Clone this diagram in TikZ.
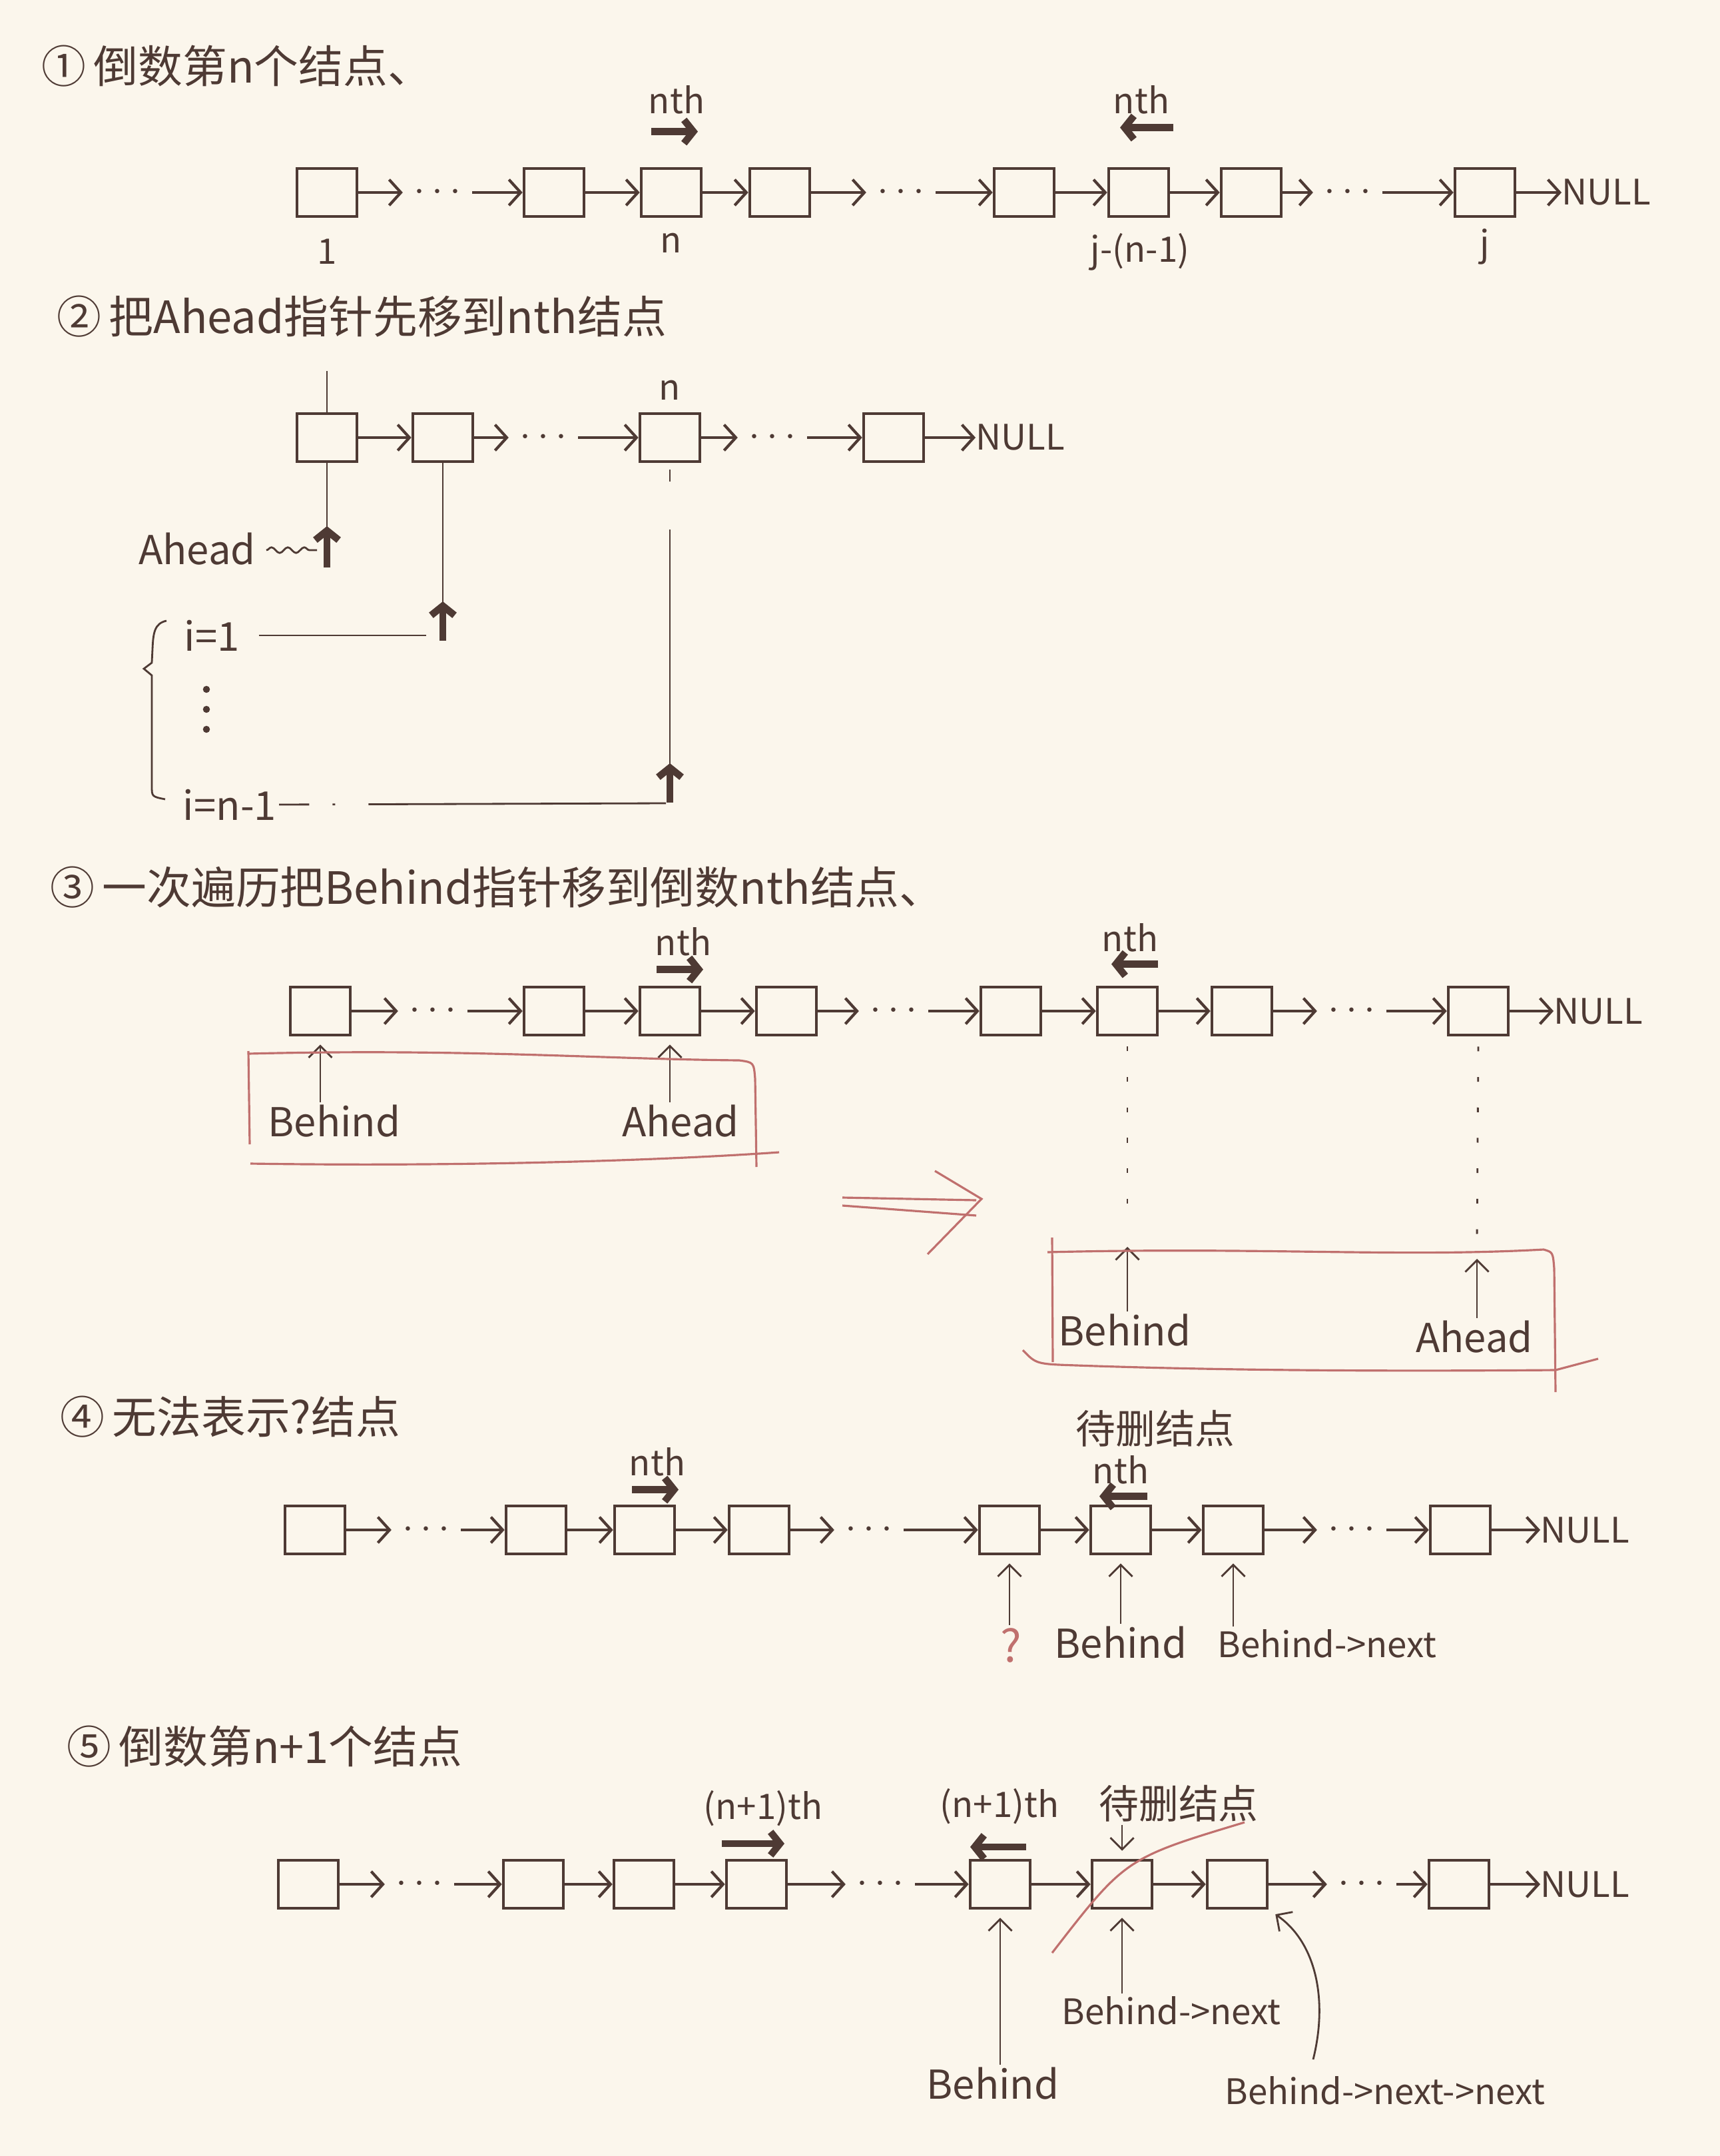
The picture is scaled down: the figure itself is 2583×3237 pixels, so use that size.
\documentclass[tikz,border=0pt]{standalone}
\usepackage{fontspec}
\setmainfont{Noto Sans CJK SC}
\usetikzlibrary{arrows.meta,calc,decorations.pathmorphing}
\definecolor{ink}{RGB}{78,58,52}
\definecolor{redink}{RGB}{192,112,110}
\definecolor{paper}{RGB}{251,246,236}

\begin{document}
\begin{tikzpicture}[x=0.01cm,y=-0.01cm,
  box/.style={draw=ink, line width=1.3pt, minimum width=0.9cm, minimum height=0.72cm, inner sep=0pt},
  dts/.style={text=ink, inner sep=0.16cm, font=\fontsize{18}{18}\selectfont},
  nul/.style={text=ink, anchor=west, inner sep=0pt, font=\fontsize{15}{15}\selectfont},
  lnk/.style={draw=ink, line width=1.2pt, -{Straight Barb[length=5pt,width=11pt]}},
  ptr/.style={draw=ink, line width=0.8pt, -{Straight Barb[length=5pt,width=10pt]}},
  tobox/.style={shorten >=0.12cm},
  wire/.style={draw=ink, line width=0.8pt},
  fat/.style={draw=ink, line width=3pt, -{Straight Barb[length=4pt,width=10pt]}},
  lbl/.style={text=ink, inner sep=1pt, font=\fontsize{17}{17}\selectfont},
  sml/.style={text=ink, inner sep=1pt, font=\fontsize{15}{15}\selectfont},
  head/.style={text=ink, anchor=west, inner sep=0pt, font=\fontsize{19}{19}\selectfont},
  redln/.style={draw=redink, line width=0.9pt},
]
\fill[paper] (0,0) rectangle (2583,3237);
\useasboundingbox (0,0) rectangle (2583,3237);

% ---------------- part 1 ----------------
\node[head] (h1) at (62,99) {①\,倒数第n个结点、};
\foreach \n/\x in {1/491,2/832,3/1008,4/1171,5/1538,6/1710,7/1879,8/2230}
  \node[box] (a\n) at (\x,289) {};
\node[dts] (ad1) at (657,289) {$\cdots$};
\node[dts] (ad2) at (1353,289) {$\cdots$};
\node[dts] (ad3) at (2024,289) {$\cdots$};
\node[nul] (anull) at (2345,289) {NULL};
\foreach \p/\q in {a1/ad1,ad1/a2,a2/a3,a3/a4,a4/ad2,ad2/a5,a5/a6,a6/a7,a7/ad3,ad3/a8,a8/anull}
  \draw[lnk] (\p) -- (\q);
\node[sml] (al1) at (491,378) {1};
\node[sml] (aln) at (1008,365) {n};
\node[sml] (alj1) at (1712,378) {j-(n-1)};
\node[sml] (alj) at (2230,370) {j};
\node[sml] (ath1) at (1016,150) {nth};
\node[sml] (ath2) at (1714,150) {nth};
\draw[fat] ($(ath1.south)+(-38,22)$) -- ++(70,0);
\draw[fat] ($(ath2.south)+(48,16)$) -- ++(-80,0);

% ---------------- part 2 ----------------
\node[head] (h2) at (85,475) {②\,把Ahead指针先移到nth结点};
\foreach \n/\x in {1/491,2/665,3/1006,4/1342}
  \node[box] (b\n) at (\x,657) {};
\node[dts] (bd1) at (816,657) {$\cdots$};
\node[dts] (bd2) at (1160,657) {$\cdots$};
\node[nul] (bnull) at (1465,657) {NULL};
\foreach \p/\q in {b1/b2,b2/bd1,bd1/b3,b3/bd2,bd2/b4,b4/bnull}
  \draw[lnk] (\p) -- (\q);
\node[sml] (bn) at (1006,586) {n};
\draw[wire] (b1.north) -- ++(0,-62);
% Ahead pointer on the first node
\node[lbl] (bA) at (296,824) {Ahead};
\draw[wire] (b1.south) -- (491,800);
\coordinate (bp1) at (491,852);
\draw[fat] (bp1) -- (491,790);
\draw[wire, decorate, decoration={snake, amplitude=1.2pt, segment length=7pt}] (bA.east) ++(12,2) -- (476,826);
% i = 1
\node[lbl] (bi1) at (318,954) {i=1};
\draw[wire, shorten <=0.25cm] (bi1.east) -- (640,954);
\draw[wire] (b2.south) -- (665,958);
\coordinate (bp2) at (665,962);
\draw[fat] (bp2) -- (665,903);
% vertical ellipsis between the iterations
\foreach \y in {1035,1065,1095} \fill[ink] (310,\y) circle (1.5pt);
% i = n-1
\node[lbl] (bin) at (345,1208) {i=n-1};
\draw[wire, dash pattern=on 0.45cm off 0.35cm on 0.04cm off 0.5cm on 12cm] (bin.east) -- (1000,1206);
\draw[wire] (b3.south) ++(0,10) -- ++(0,18);
\draw[wire] (1006,795) -- (1006,1196);
\coordinate (bp3) at (1006,1205);
\draw[fat] (bp3) -- (1006,1146);
% brace grouping the iterations
\draw[wire] (250,932) .. controls (232,936) and (230,950) .. (229,975) -- (228,995)
  -- (216,1004) -- (228,1014) -- (228,1180) .. controls (228,1196) .. (248,1200);

% ---------------- part 3 ----------------
\node[head] (h3) at (75,1332) {③\,一次遍历把Behind指针移到倒数nth结点、};
\foreach \n/\x in {1/481,2/832,3/1006,4/1181,5/1518,6/1693,7/1865,8/2220}
  \node[box] (c\n) at (\x,1518) {};
\node[dts] (cd1) at (650,1518) {$\cdots$};
\node[dts] (cd2) at (1342,1518) {$\cdots$};
\node[dts] (cd3) at (2030,1518) {$\cdots$};
\node[nul] (cnull) at (2333,1518) {NULL};
\foreach \p/\q in {c1/cd1,cd1/c2,c2/c3,c3/c4,c4/cd2,cd2/c5,c5/c6,c6/c7,c7/cd3,cd3/c8,c8/cnull}
  \draw[lnk] (\p) -- (\q);
\node[sml] (cth1) at (1026,1414) {nth};
\node[sml] (cth2) at (1697,1408) {nth};
\draw[fat] ($(cth1.south)+(-40,16)$) -- ++(70,0);
\draw[fat] ($(cth2.south)+(42,14)$) -- ++(-70,0);
\node[lbl] (cB) at (502,1683) {Behind};
\node[lbl] (cA) at (1022,1683) {Ahead};
\draw[ptr, tobox] (cB.north -| c1) -- (c1.south);
\draw[ptr, tobox] (cA.north -| c3) -- (c3.south);
% first state, framed in red
\draw[redln] (373,1582) .. controls (700,1574) and (900,1590) .. (1110,1592)
  .. controls (1132,1595) .. (1134,1620) -- (1136,1752);
\draw[redln] (373,1578) -- (375,1718);
\draw[redln] (376,1747) .. controls (700,1752) and (1000,1742) .. (1170,1730);
% transition
\draw[redln] (1265,1798) -- (1466,1802);
\draw[redln] (1265,1810) -- (1466,1825);
\draw[redln] (1404,1758) -- (1474,1800) -- (1393,1883);
% second state
\coordinate (ct6) at (1693,1872);
\coordinate (ct8) at (2218,1890);
\draw[wire, dash pattern=on 2pt off 11pt] (c6.south) ++(0,15) -- ($(ct6)+(0,-35)$);
\draw[wire, dash pattern=on 2pt off 11pt] (c8.south) ++(0,15) -- ($(ct8)+(0,-30)$);
\node[lbl] (cB2) at (1689,1997) {Behind};
\node[lbl] (cA2) at (2214,2007) {Ahead};
\draw[ptr] (cB2.north -| ct6) -- (ct6);
\draw[ptr] (cA2.north -| ct8) -- (ct8);
\draw[redln] (1573,1880) .. controls (1900,1872) and (2100,1888) .. (2318,1876)
  .. controls (2332,1880) .. (2334,1905) -- (2336,2090);
\draw[redln] (1580,1858) -- (1581,2045);
\draw[redln] (1536,2027) .. controls (1556,2048) .. (1617,2050)
  .. controls (1900,2060) and (2200,2058) .. (2336,2057) -- (2400,2040);

% ---------------- part 4 ----------------
\node[head] (h4) at (90,2127) {④\,无法表示?结点};
\foreach \n/\x in {1/473,2/805,3/968,4/1140,5/1516,6/1683,7/1852,8/2193}
  \node[box] (d\n) at (\x,2297) {};
\node[dts] (dd1) at (640,2297) {$\cdots$};
\node[dts] (dd2) at (1305,2297) {$\cdots$};
\node[dts] (dd3) at (2030,2297) {$\cdots$};
\node[nul] (dnull) at (2313,2297) {NULL};
\foreach \p/\q in {d1/dd1,dd1/d2,d2/d3,d3/d4,d4/dd2,dd2/d5,d5/d6,d6/d7,d7/dd3,dd3/d8,d8/dnull}
  \draw[lnk] (\p) -- (\q);
\node[sml] (dth1) at (987,2195) {nth};
\node[lbl] (ddel) at (1735,2145) {待删结点};
\node[sml] (dth2) at (1683,2207) {nth};
\draw[fat] ($(dth1.south)+(-38,16)$) -- ++(70,0);
\draw[fat] ($(dth2.south)+(40,14)$) -- ++(-72,0);
\node[text=redink, inner sep=1pt, font=\fontsize{19}{19}\selectfont] (dq) at (1518,2470) {?};
\node[lbl] (dB) at (1683,2466) {Behind};
\node[sml] (dBn) at (1993,2468) {Behind->next};
\draw[ptr, tobox] (dq.north -| d5) -- (d5.south);
\draw[ptr, tobox] (dB.north -| d6) -- (d6.south);
\draw[ptr, tobox] (dBn.north -| d7) -- (d7.south);

% ---------------- part 5 ----------------
\node[head] (h5) at (100,2622) {⑤\,倒数第n+1个结点};
\foreach \n/\x in {1/463,2/801,3/967,4/1136,5/1502,6/1685,7/1858,8/2191}
  \node[box] (e\n) at (\x,2829) {};
\node[dts] (ed1) at (630,2829) {$\cdots$};
\node[dts] (ed2) at (1322,2829) {$\cdots$};
\node[dts] (ed3) at (2045,2829) {$\cdots$};
\node[nul] (enull) at (2313,2829) {NULL};
\foreach \p/\q in {e1/ed1,ed1/e2,e2/e3,e3/e4,e4/ed2,ed2/e5,e5/e6,e6/e7,e7/ed3,ed3/e8,e8/enull}
  \draw[lnk] (\p) -- (\q);
\node[sml] (eth1) at (1146,2715) {(n+1)th};
\node[sml] (eth2) at (1501,2712) {(n+1)th};
\draw[fat] ($(eth1.south)+(-62,22)$) -- ++(94,0);
\draw[fat] ($(eth2.south)+(40,30)$) -- ++(-84,0);
\node[lbl] (edel) at (1770,2708) {待删结点};
\draw[ptr, tobox] (edel.south -| e6) -- (e6.north);
% the node to be removed, struck out
\draw[redln] (1580,2932) .. controls (1690,2790) .. (1869,2736);
\node[lbl] (eB) at (1491,3128) {Behind};
\node[sml] (eBn) at (1759,3019) {Behind->next};
\node[sml] (eBnn) at (2080,3139) {Behind->next->next};
\draw[ptr, tobox] (eB.north -| e5) -- (e5.south);
\draw[ptr, tobox] (eBn.north -| e6) -- (e6.south);
\coordinate (ec) at (1972,3092);
\draw[ptr, tobox] (ec) .. controls (1995,3000) and (1975,2915) .. (e7.south east);

\end{tikzpicture}
\end{document}
